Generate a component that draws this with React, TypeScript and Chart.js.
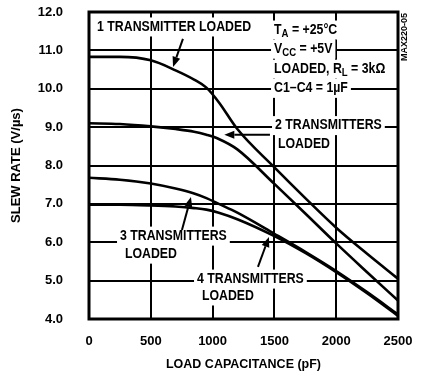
import React, { useEffect, useRef } from 'react';
import { Chart, registerables } from 'chart.js';

Chart.register(...registerables);

// ---- data (load capacitance in pF, slew rate in V/µs) ----
const capacitance = [0, 250, 500, 700, 850, 950, 1050, 1200, 1500, 1750, 2000, 2250, 2500];
const oneTransmitter = [10.83, 10.83, 10.74, 10.48, 10.24, 10.03, 9.65, 8.95, 7.95, 7.15, 6.38, 5.7, 5.05];
const twoTransmitters = [9.1, 9.08, 9.02, 8.95, 8.88, 8.8, 8.69, 8.42, 7.52, 6.75, 5.97, 5.22, 4.48];
const threeTransmitters = [7.68, 7.63, 7.53, 7.4, 7.27, 7.15, 7.0, 6.77, 6.22, 5.75, 5.25, 4.7, 4.12];
const fourTransmitters = [6.98, 6.98, 6.96, 6.93, 6.89, 6.85, 6.77, 6.6, 6.16, 5.72, 5.22, 4.67, 4.08];

const xTickValues = [0, 500, 1000, 1500, 2000, 2500];
const yTickValues = [4, 5, 6, 7, 8, 9, 10, 11, 12];

const xTitle = 'LOAD CAPACITANCE (pF)';
const yTitle = 'SLEW RATE (V/µs)';
const figureCode = 'MAX220-05';

type Seg = { t: string; sub?: boolean };
type Note = { segs: Seg[]; x: number; y: number }; // x = left edge (pF), y = vertical centre (V/µs)
type Arrow = { from: [number, number]; to: [number, number] };

const notes: Note[] = [
  { segs: [{ t: '1 TRANSMITTER LOADED' }], x: 65, y: 11.61 },
  { segs: [{ t: 'T' }, { t: 'A', sub: true }, { t: ' = +25°C' }], x: 1497, y: 11.53 },
  { segs: [{ t: 'V' }, { t: 'CC', sub: true }, { t: ' = +5V' }], x: 1497, y: 11.03 },
  { segs: [{ t: 'LOADED, R' }, { t: 'L', sub: true }, { t: ' = 3kΩ' }], x: 1497, y: 10.51 },
  { segs: [{ t: 'C1–C4 = 1µF' }], x: 1497, y: 10.01 },
  { segs: [{ t: '2 TRANSMITTERS' }], x: 1505, y: 9.04 },
  { segs: [{ t: 'LOADED' }], x: 1529, y: 8.56 },
  { segs: [{ t: '3 TRANSMITTERS' }], x: 251, y: 6.16 },
  { segs: [{ t: 'LOADED' }], x: 291, y: 5.69 },
  { segs: [{ t: '4 TRANSMITTERS' }], x: 874, y: 5.04 },
  { segs: [{ t: 'LOADED' }], x: 914, y: 4.6 },
];

const arrows: Arrow[] = [
  { from: [760, 11.3], to: [680, 10.57] },
  { from: [1464, 8.8], to: [1095, 8.8] },
  { from: [752, 6.32], to: [825, 7.18] },
  { from: [1367, 5.36], to: [1456, 6.14] },
];

const FAMILY = "'Liberation Sans', Arial, sans-serif";
const font = (size: number) => `bold ${size}px ${FAMILY}`;
const NOTE_SIZE = 14;
const NOTE_STRETCH = 0.88;

const annotationPlugin = {
  id: 'annotations',
  beforeDatasetsDraw(chart: any) {
    const { ctx, scales, chartArea } = chart;
    const xs = scales.x;
    const ys = scales.y;
    ctx.save();
    for (const n of notes) {
      const left = xs.getPixelForValue(n.x);
      const cy = ys.getPixelForValue(n.y);
      const widths = n.segs.map((s) => {
        ctx.font = font(s.sub ? NOTE_SIZE * 0.78 : NOTE_SIZE);
        return ctx.measureText(s.t).width * NOTE_STRETCH;
      });
      const total = widths.reduce((a, b) => a + b, 0);
      ctx.fillStyle = '#ffffff';
      ctx.fillRect(left - 3, cy - 9.5, total + 6, 19);
      ctx.fillStyle = '#000000';
      ctx.textBaseline = 'middle';
      ctx.textAlign = 'left';
      let xp = left;
      n.segs.forEach((s, i) => {
        ctx.save();
        ctx.font = font(s.sub ? NOTE_SIZE * 0.78 : NOTE_SIZE);
        ctx.translate(xp, s.sub ? cy + 3.5 : cy);
        ctx.scale(NOTE_STRETCH, 1);
        ctx.fillText(s.t, 0, 0);
        ctx.restore();
        xp += widths[i];
      });
    }
    ctx.strokeStyle = '#000';
    ctx.fillStyle = '#000';
    ctx.lineWidth = 2;
    for (const a of arrows) {
      const x1 = xs.getPixelForValue(a.from[0]);
      const y1 = ys.getPixelForValue(a.from[1]);
      const x2 = xs.getPixelForValue(a.to[0]);
      const y2 = ys.getPixelForValue(a.to[1]);
      const ang = Math.atan2(y2 - y1, x2 - x1);
      const hl = 10;
      const hw = 4;
      const bx = x2 - hl * Math.cos(ang);
      const by = y2 - hl * Math.sin(ang);
      ctx.beginPath();
      ctx.moveTo(x1, y1);
      ctx.lineTo(bx, by);
      ctx.stroke();
      ctx.beginPath();
      ctx.moveTo(x2, y2);
      ctx.lineTo(bx + hw * Math.sin(ang), by - hw * Math.cos(ang));
      ctx.lineTo(bx - hw * Math.sin(ang), by + hw * Math.cos(ang));
      ctx.closePath();
      ctx.fill();
    }
    // figure code, rotated, right of plot
    ctx.save();
    ctx.translate(chartArea.right + 7, chartArea.top + 25);
    ctx.rotate(-Math.PI / 2);
    ctx.font = font(9);
    ctx.textAlign = 'center';
    ctx.textBaseline = 'middle';
    ctx.fillText(figureCode, 0, 0);
    ctx.restore();
    ctx.restore();
  },
  afterDatasetsDraw(chart: any) {
    const { ctx, chartArea } = chart;
    ctx.save();
    ctx.strokeStyle = '#000';
    ctx.lineWidth = 3;
    ctx.strokeRect(chartArea.left, chartArea.top, chartArea.right - chartArea.left, chartArea.bottom - chartArea.top);
    ctx.restore();
  },
};

const toPoints = (ys: number[]) => capacitance.map((x, i) => ({ x, y: ys[i] }));

export default function App() {
  const ref = useRef<HTMLCanvasElement>(null);
  useEffect(() => {
    const series = [oneTransmitter, twoTransmitters, threeTransmitters, fourTransmitters];
    const labels = ['1 TRANSMITTER LOADED', '2 TRANSMITTERS LOADED', '3 TRANSMITTERS LOADED', '4 TRANSMITTERS LOADED'];
    const tickFont = { family: FAMILY, size: 13, weight: 'bold' as const };
    const chart = new Chart(ref.current as HTMLCanvasElement, {
      type: 'line',
      data: {
        datasets: series.map((s, i) => ({
          label: labels[i],
          data: toPoints(s),
          borderColor: '#000',
          borderWidth: 2.6,
          pointRadius: 0,
          fill: false,
          cubicInterpolationMode: 'monotone' as const,
        })),
      },
      options: {
        responsive: false,
        animation: false,
        devicePixelRatio: 1,
        layout: { padding: { top: 12, right: 23, left: 0, bottom: 0 } },
        plugins: { legend: { display: false }, tooltip: { enabled: false } },
        scales: {
          x: {
            type: 'linear',
            min: 0,
            max: 2500,
            afterFit: (s: any) => { s.height = 59; s.paddingLeft = 0; s.paddingRight = 0; },
            afterBuildTicks: (s: any) => { s.ticks = xTickValues.map((v) => ({ value: v })); },
            grid: { color: '#000', lineWidth: 2, drawTicks: false },
            border: { display: false },
            ticks: {
              color: '#000',
              font: tickFont,
              padding: 15,
              maxRotation: 0,
              callback: (v: any) => String(v),
            },
            title: {
              display: true,
              text: xTitle,
              color: '#000',
              font: { family: FAMILY, size: 12.5, weight: 'bold' },
              padding: { top: 0, bottom: 6 },
            },
          },
          y: {
            type: 'linear',
            min: 4,
            max: 12,
            afterFit: (s: any) => { s.width = 89; s.paddingTop = 0; s.paddingBottom = 0; },
            afterBuildTicks: (s: any) => { s.ticks = yTickValues.map((v) => ({ value: v })); },
            grid: { color: '#000', lineWidth: 2, drawTicks: false },
            border: { display: false },
            ticks: {
              color: '#000',
              font: tickFont,
              padding: 26,
              callback: (v: any) => Number(v).toFixed(1),
            },
            title: {
              display: true,
              text: yTitle,
              color: '#000',
              font: { family: FAMILY, size: 13, weight: 'bold' },
              padding: { top: 9, bottom: 0 },
            },
          },
        },
      },
      plugins: [annotationPlugin],
    });
    return () => chart.destroy();
  }, []);
  return (
    <div style={{ position: 'absolute', left: 0, top: 0, width: 421, height: 378, background: '#fff' }}>
      <canvas ref={ref} width={421} height={378} style={{ display: 'block', width: 421, height: 378 }} />
    </div>
  );
}
